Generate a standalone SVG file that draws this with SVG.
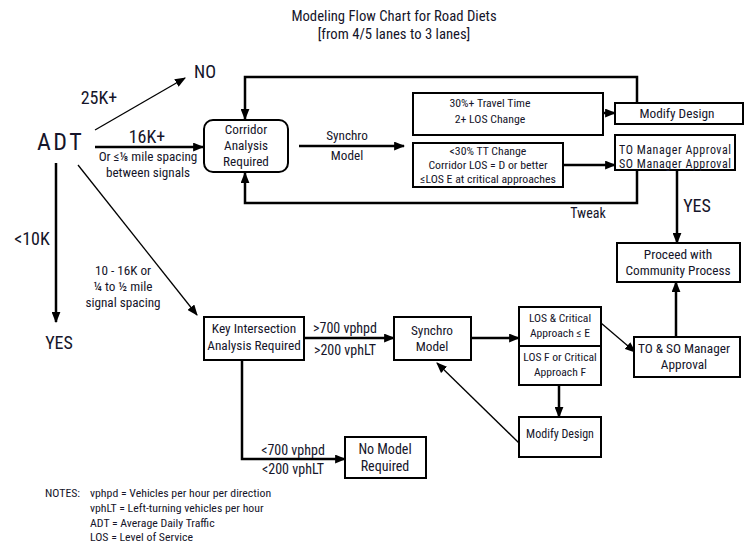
<svg xmlns="http://www.w3.org/2000/svg" width="750" height="552" viewBox="0 0 750 552">
<defs>
<style>
text{font-family:"Roboto Condensed","Liberation Sans Narrow","Liberation Sans",sans-serif;fill:#15152a;text-anchor:middle}
.box{fill:#fff;stroke:#000;stroke-width:2}
.thick{fill:none;stroke:#000;stroke-width:2.5}
.thin{fill:none;stroke:#000;stroke-width:1.3}
.f10{font-size:11.8px}
.f11{font-size:13.2px}
.f12{font-size:13.3px}
.f14{font-size:18px}
.l{text-anchor:start}
</style>
<marker id="ah" viewBox="0 0 10 8" markerWidth="11" markerHeight="9" refX="9" refY="4" orient="auto" markerUnits="userSpaceOnUse">
<path d="M0,0 L10,4 L0,8 z" fill="#000"/>
</marker>
</defs>
<rect width="750" height="552" fill="#fff"/>
<g id="title">
<text x="394" y="21" style="font-size:14.7px">Modeling Flow Chart for Road Diets</text>
<text x="394" y="39" style="font-size:14.7px">[from 4/5 lanes to 3 lanes]</text>
</g>
<g id="connectors">
<line class="thin" x1="95" y1="130" x2="185" y2="78" marker-end="url(#ah)"/>
<line class="thick" x1="95" y1="147" x2="203" y2="147" marker-end="url(#ah)"/>
<line class="thick" x1="56" y1="163" x2="56" y2="322" marker-end="url(#ah)"/>
<line class="thin" x1="78" y1="165" x2="197" y2="315" marker-end="url(#ah)"/>
<polyline class="thick" points="637,103 637,77 245,77 245,119" marker-end="url(#ah)"/>
<polyline class="thick" points="637,170 637,203 245,203 245,173" marker-end="url(#ah)"/>
<line class="thick" x1="299" y1="146" x2="404" y2="146" marker-end="url(#ah)"/>
<line class="thick" x1="603" y1="113" x2="615" y2="113" marker-end="url(#ah)"/>
<line class="thick" x1="563" y1="165" x2="615" y2="165" marker-end="url(#ah)"/>
<line class="thick" x1="677" y1="170" x2="677" y2="243" marker-end="url(#ah)"/>
<line class="thick" x1="676" y1="337" x2="676" y2="282" marker-end="url(#ah)"/>
<line class="thick" x1="304" y1="338" x2="394" y2="338" marker-end="url(#ah)"/>
<line class="thick" x1="471" y1="338" x2="519" y2="338" marker-end="url(#ah)"/>
<line class="thin" x1="601" y1="323" x2="635" y2="352" marker-end="url(#ah)"/>
<line class="thick" x1="559" y1="385" x2="559" y2="417" marker-end="url(#ah)"/>
<line class="thin" x1="519" y1="443" x2="437" y2="363" marker-end="url(#ah)"/>
<polyline class="thick" points="242,360 242,459 345,459" marker-end="url(#ah)"/>
</g>
<g id="labels">
<text x="37" y="150" class="l" style="font-size:24px;letter-spacing:2.5px">ADT</text>
<text x="99" y="104" class="f14">25K+</text>
<text x="205" y="78" class="f14">NO</text>
<text x="147" y="143" class="f14">16K+</text>
<text x="148" y="161" class="f11">Or ≤⅛ mile spacing</text>
<text x="148" y="177" class="f11">between signals</text>
<text x="32" y="245" class="f14">&lt;10K</text>
<text x="59" y="349" class="f14">YES</text>
<text x="123" y="275" class="f11">10 - 16K or</text>
<text x="123" y="291" class="f11">¼ to ½ mile</text>
<text x="123" y="307" class="f11">signal spacing</text>
<text x="347" y="140" class="f11">Synchro</text>
<text x="347" y="160" class="f11">Model</text>
<text x="588" y="218" style="font-size:14px">Tweak</text>
<text x="697" y="212" class="f14">YES</text>
<text x="345" y="333" style="font-size:14px">&gt;700 vphpd</text>
<text x="345" y="355" style="font-size:14px">&gt;200 vphLT</text>
<text x="293" y="455" style="font-size:14px">&lt;700 vphpd</text>
<text x="293" y="474" style="font-size:14px">&lt;200 vphLT</text>
</g>
<g id="corridor">
<rect class="box" x="204" y="120" width="84" height="52" rx="9"/>
<text x="246" y="134" class="f11">Corridor</text>
<text x="246" y="150" class="f11">Analysis</text>
<text x="246" y="166" class="f11">Required</text>
</g>
<g id="tt30plus">
<rect class="box" x="413" y="93" width="190" height="42"/>
<text x="490" y="107" class="f10">30%+ Travel Time</text>
<text x="490" y="123" class="f10">2+ LOS Change</text>
</g>
<g id="tt30less">
<rect class="box" x="413" y="143" width="150" height="44"/>
<text x="488" y="155" class="f10">&lt;30% TT Change</text>
<text x="488" y="169" class="f10">Corridor LOS = D or better</text>
<text x="488" y="183" class="f10">≤LOS  E at critical approaches</text>
</g>
<g id="modify1">
<rect class="box" x="615" y="103" width="128" height="21"/>
<text x="677" y="118" class="f12">Modify Design</text>
</g>
<g id="tomgr">
<rect class="box" x="615" y="135" width="120" height="35"/>
<text x="675" y="153.5" style="font-size:12px" textLength="112">TO Manager Approval</text>
<text x="675" y="167.5" style="font-size:12px" textLength="112">SO Manager Approval</text>
</g>
<g id="proceed">
<rect class="box" x="617" y="243" width="123" height="39"/>
<text x="678" y="259" class="f12">Proceed with</text>
<text x="678" y="275" class="f12">Community Process</text>
</g>
<g id="tosomgr">
<rect class="box" x="634" y="337" width="106" height="40"/>
<text x="684" y="353" class="f12">TO &amp; SO Manager</text>
<text x="684" y="369" class="f12">Approval</text>
</g>
<g id="los">
<rect class="box" x="519" y="307" width="82" height="78"/>
<line x1="519" y1="346" x2="601" y2="346" stroke="#000" stroke-width="2"/>
<text x="560" y="322" style="font-size:11.6px">LOS &amp; Critical</text>
<text x="560" y="337" style="font-size:11.6px">Approach ≤ E</text>
<text x="560" y="361" style="font-size:11.6px">LOS F or Critical</text>
<text x="560" y="376" style="font-size:11.6px">Approach F</text>
</g>
<g id="modify2">
<rect class="box" x="519" y="417" width="82" height="40"/>
<text x="560" y="438" style="font-size:12px">Modify Design</text>
</g>
<g id="synchro2">
<rect class="box" x="394" y="317" width="77" height="43"/>
<text x="432" y="335" class="f12">Synchro</text>
<text x="432" y="351" class="f12">Model</text>
</g>
<g id="keyint">
<rect class="box" x="204" y="317" width="100" height="43"/>
<text x="254" y="333" class="f12">Key Intersection</text>
<text x="254" y="350" class="f12">Analysis Required</text>
</g>
<g id="nomodel">
<rect class="box" x="345" y="437" width="81" height="41"/>
<text x="385" y="454" style="font-size:14px">No Model</text>
<text x="385" y="471" style="font-size:14px">Required</text>
</g>
<g id="notes">
<text x="45" y="497" class="f10 l">NOTES:</text>
<text x="90" y="497" class="f10 l">vphpd = Vehicles per hour per direction</text>
<text x="90" y="512" class="f10 l">vphLT = Left-turning vehicles per hour</text>
<text x="90" y="527" class="f10 l">ADT = Average Daily Traffic</text>
<text x="90" y="541" class="f10 l">LOS = Level of Service</text>
</g>
</svg>
